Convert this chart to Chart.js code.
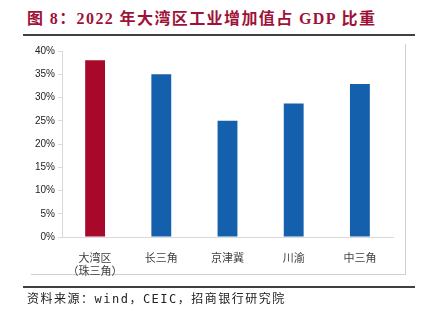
<!DOCTYPE html>
<html>
  <head>
    <meta charset="utf-8" />
    <title>2022 年大湾区工业增加值占 GDP 比重</title>
    <script src="https://cdn.jsdelivr.net/npm/chart.js"></script>
    <style>
      body { margin: 0; background: #fff; }
      .wrap { position: relative; width: 424px; height: 321px; overflow: hidden; }
      .title {
        position: absolute; left: 27px; top: 5px; white-space: nowrap;
        font: bold 16px "Liberation Serif", "Noto Sans CJK SC", serif;
        letter-spacing: 1.4px; color: #9e1238;
      }
      .rule { position: absolute; left: 23px; width: 392px; height: 2px; background: #404040; }
      .frame {
        position: absolute; left: 31px; top: 44px; width: 374px; height: 230px;
        border-right: 1px solid #d0d0d0; border-bottom: 1px solid #d0d0d0;
      }
      .source {
        position: absolute; left: 27px; top: 289px; white-space: nowrap;
        font: 12px "DejaVu Sans Mono", "Noto Sans CJK SC", monospace;
        letter-spacing: 1.5px; color: #222;
      }
      .chartbox { position: absolute; left: 0; top: 0; width: 424px; height: 321px; }
    </style>
  </head>
  <body>
    <div class="wrap">
      <div class="title">图 8：2022 年大湾区工业增加值占 GDP 比重</div>
      <div class="rule" style="top: 34px"></div>
      <div class="frame"></div>
      <div class="chartbox"><canvas id="myChart"></canvas></div>
      <div class="rule" style="top: 286px"></div>
      <div class="source">资料来源：wind，CEIC，招商银行研究院</div>
    </div>

    <script>
      const regions = [["大湾区", "（珠三角）"], "长三角", "京津冀", "川渝", "中三角"];
      const shares = [38, 35, 25, 28.7, 32.9];
      const yTicks = [0, 5, 10, 15, 20, 25, 30, 35, 40];

      const barColors = shares.map(function (v, i) {
        return i === 0 ? "#a8092a" : "#1560ac";
      });

      const config = {
        type: "bar",
        data: {
          labels: regions,
          datasets: [
            {
              label: "工业增加值占GDP比重",
              data: shares,
              backgroundColor: barColors,
              categoryPercentage: 1,
              barPercentage: 0.3,
            },
          ],
        },
        options: {
          responsive: true,
          maintainAspectRatio: false,
          animation: false,
          layout: { padding: { top: 51, right: 31, bottom: 44, left: 0 } },
          plugins: {
            legend: { display: false },
            tooltip: { enabled: false },
          },
          scales: {
            x: {
              grid: { display: false },
              border: { color: "#d9d9d9" },
              ticks: {
                color: "#404040",
                padding: 6,
                maxRotation: 0,
                font: { family: "Noto Sans CJK SC", size: 11 },
              },
              afterFit: function (scale) {
                scale.height = 40;
              },
            },
            y: {
              min: 0,
              max: 40,
              border: { color: "#d9d9d9" },
              grid: {
                drawOnChartArea: false,
                drawTicks: true,
                tickLength: 4,
                color: "#d9d9d9",
              },
              afterBuildTicks: function (scale) {
                scale.ticks = yTicks.map(function (v) {
                  return { value: v };
                });
              },
              ticks: {
                color: "#222",
                padding: 3,
                font: { family: "Liberation Sans", size: 10 },
                callback: function (v) {
                  return v + "%";
                },
              },
              afterFit: function (scale) {
                scale.width = 62;
              },
            },
          },
        },
      };

      const myChart = new Chart(document.getElementById("myChart"), config);
    </script>
  </body>
</html>
